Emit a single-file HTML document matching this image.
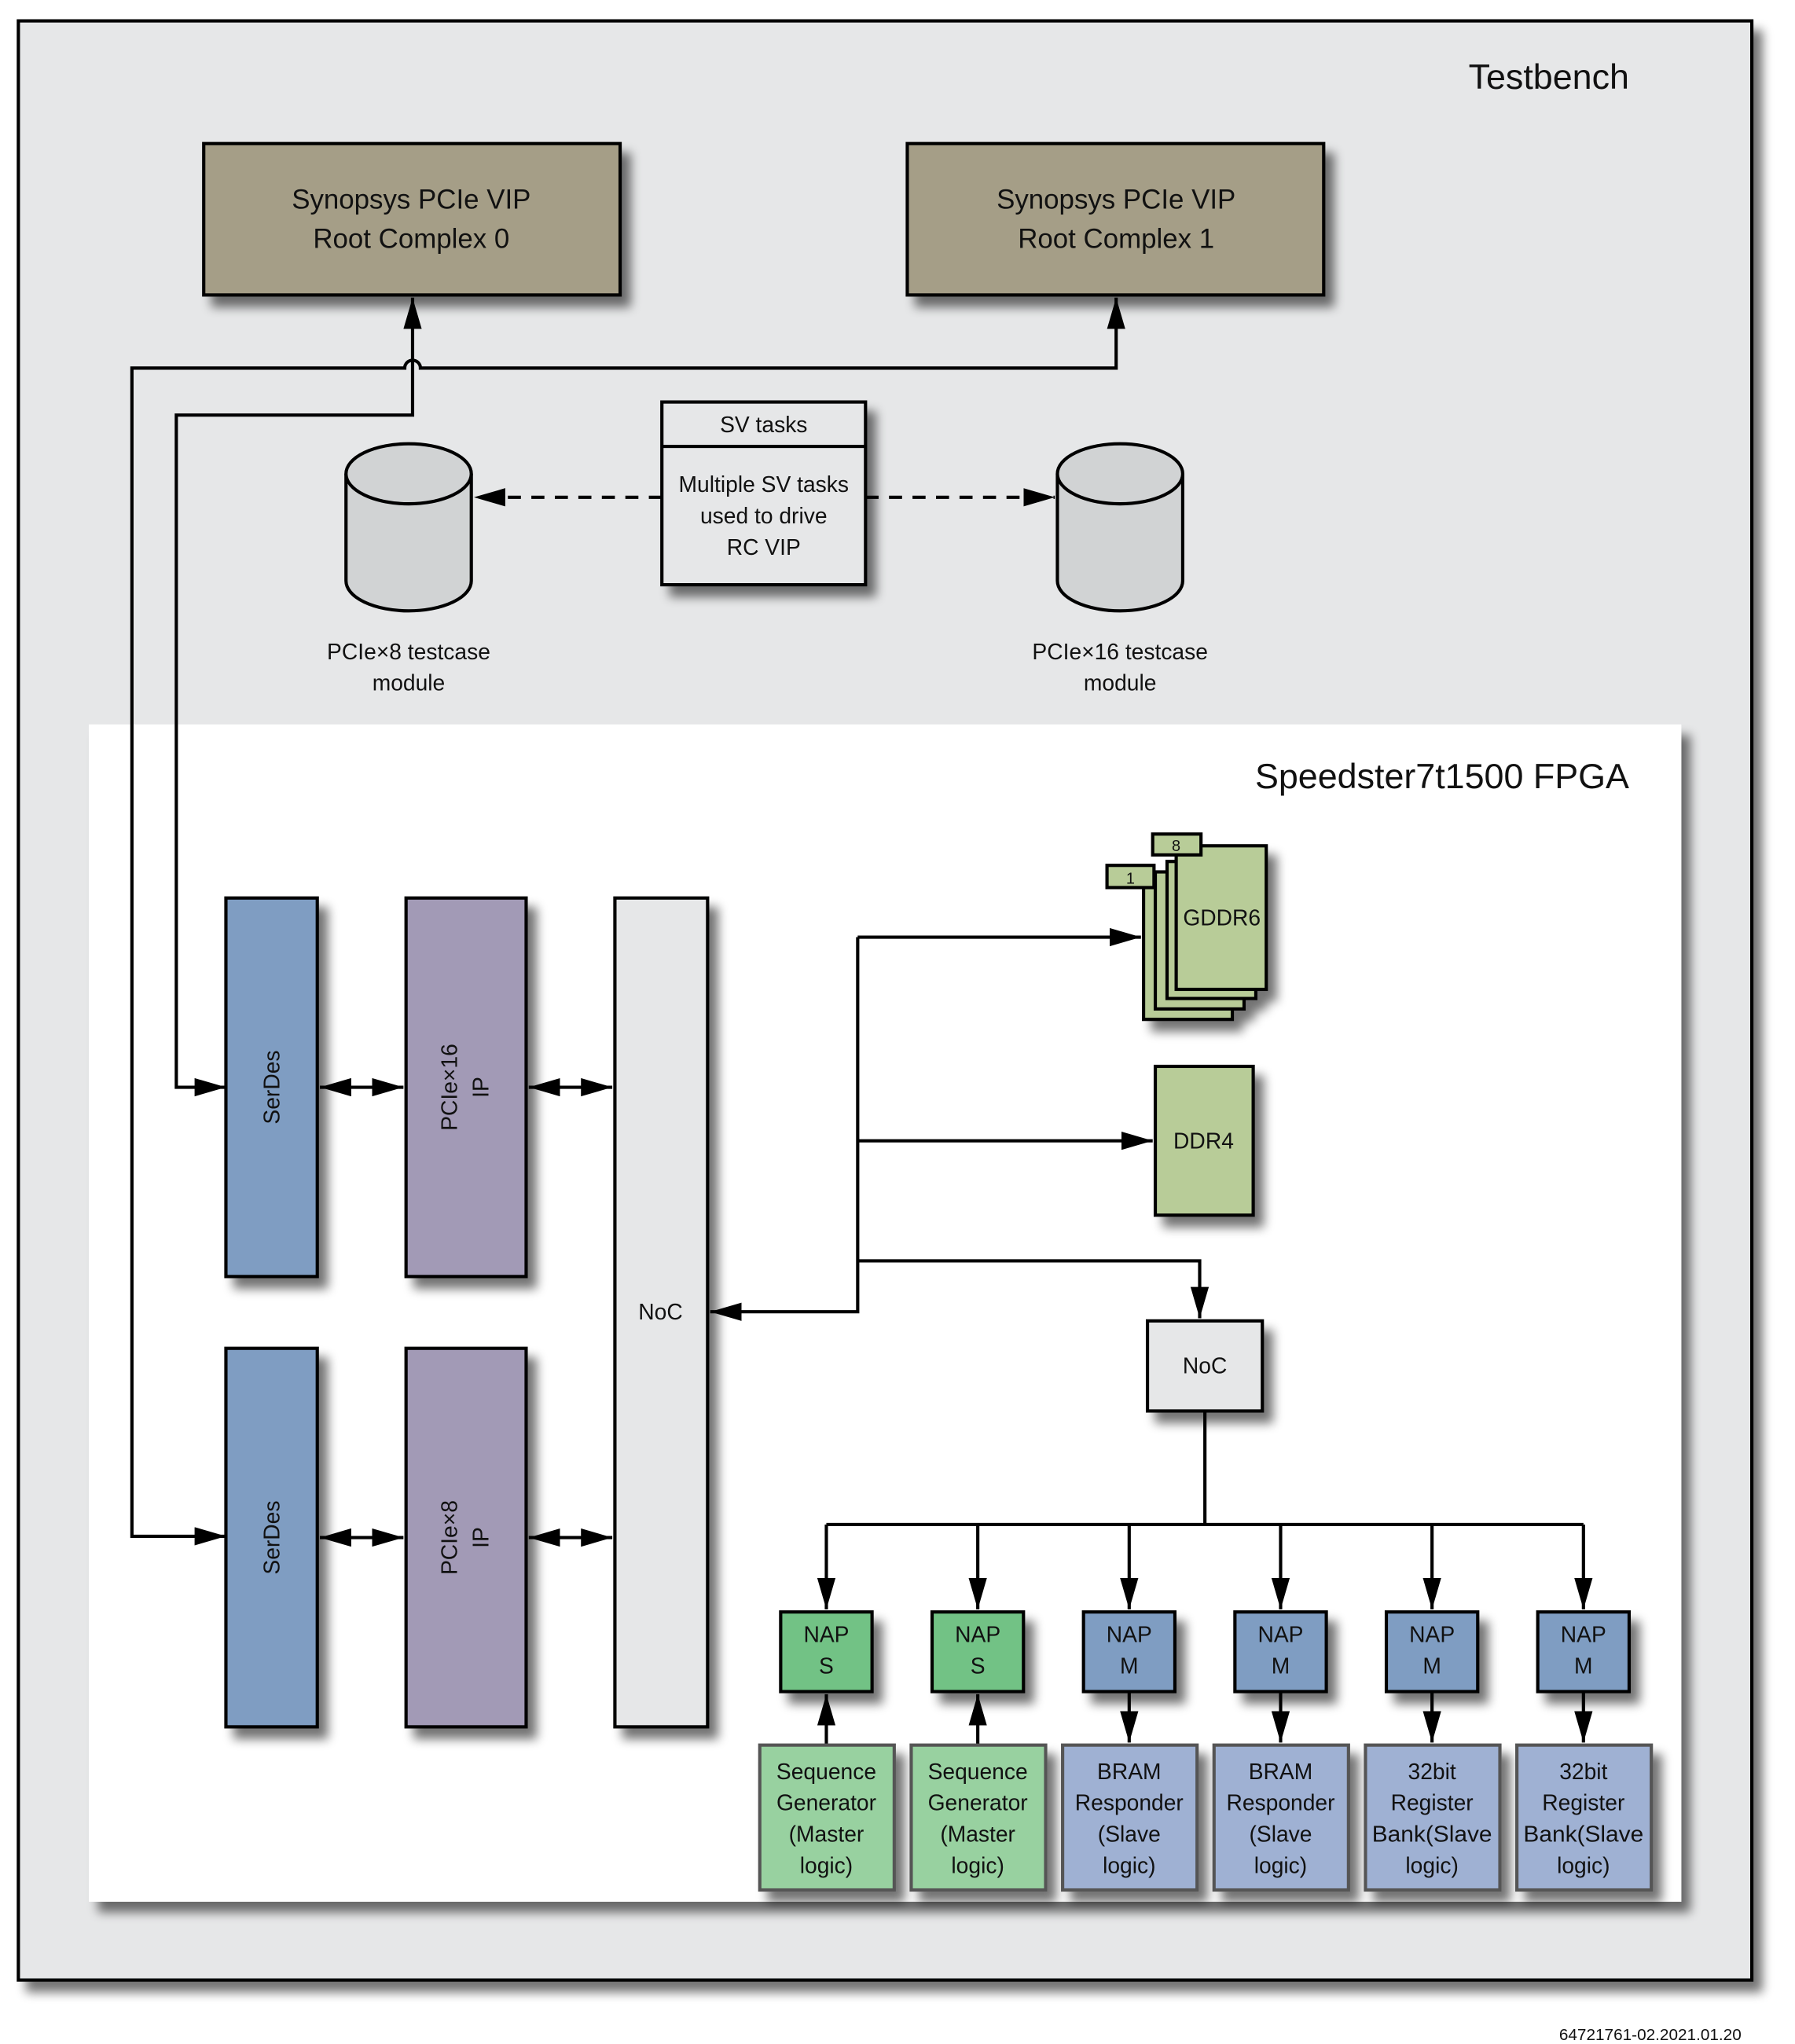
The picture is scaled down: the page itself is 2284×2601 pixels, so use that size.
<!DOCTYPE html>
<html><head><meta charset="utf-8"><style>
html,body{margin:0;padding:0;background:#fff;}
svg{display:block;}
text{font-family:"Liberation Sans",sans-serif;fill:#111;}
</style></head><body>
<svg width="2284" height="2601" viewBox="0 0 1375 1566" xmlns="http://www.w3.org/2000/svg">
<defs>
<filter id="sh" x="-20%" y="-20%" width="150%" height="150%">
<feGaussianBlur in="SourceAlpha" stdDeviation="4"/>
<feOffset dx="7" dy="8" result="b"/>
<feComponentTransfer><feFuncA type="linear" slope="0.55"/></feComponentTransfer>
<feMerge><feMergeNode/><feMergeNode in="SourceGraphic"/></feMerge>
</filter>
<marker id="ar" markerUnits="userSpaceOnUse" markerWidth="26" markerHeight="16" refX="24" refY="7" orient="auto">
<path d="M0,0 L24,7 L0,14 Z" fill="#000"/>
</marker>
<marker id="as" markerUnits="userSpaceOnUse" markerWidth="26" markerHeight="16" refX="24" refY="7" orient="auto-start-reverse">
<path d="M0,0 L24,7 L0,14 Z" fill="#000"/>
</marker>
</defs>

<!-- Testbench -->
<rect x="14" y="16" width="1328" height="1501" fill="#e6e7e8" stroke="#000" stroke-width="2.5" filter="url(#sh)"/>
<text x="1248" y="68" font-size="27" text-anchor="end">Testbench</text>

<!-- Root complexes -->
<rect x="156" y="110" width="319" height="116" fill="#a59e87" stroke="#000" stroke-width="2.5" filter="url(#sh)"/>
<text x="315" y="160" font-size="21" text-anchor="middle">Synopsys PCIe VIP</text>
<text x="315" y="190" font-size="21" text-anchor="middle">Root Complex 0</text>
<rect x="695" y="110" width="319" height="116" fill="#a59e87" stroke="#000" stroke-width="2.5" filter="url(#sh)"/>
<text x="855" y="160" font-size="21" text-anchor="middle">Synopsys PCIe VIP</text>
<text x="855" y="190" font-size="21" text-anchor="middle">Root Complex 1</text>

<g fill="none" stroke="#000" stroke-width="2.5">
<path d="M507,381 L363,381" stroke-dasharray="10,8" marker-end="url(#ar)"/>
<path d="M663,381 L808,381" stroke-dasharray="10,8" marker-end="url(#ar)"/>
</g>

<!-- SV tasks -->
<rect x="507" y="308" width="156" height="140" fill="#e6e7e8" stroke="#000" stroke-width="2.5" filter="url(#sh)"/>
<line x1="507" y1="342" x2="663" y2="342" stroke="#000" stroke-width="2.5"/>
<text x="585" y="331" font-size="17" text-anchor="middle">SV tasks</text>
<text x="585" y="377" font-size="17" text-anchor="middle">Multiple SV tasks</text>
<text x="585" y="401" font-size="17" text-anchor="middle">used to drive</text>
<text x="585" y="425" font-size="17" text-anchor="middle">RC VIP</text>

<!-- cylinders -->
<g stroke="#000" stroke-width="2.5" fill="#d1d3d4">
<path d="M265,363 L265,445 A48,23 0 0 0 361,445 L361,363"/>
<ellipse cx="313" cy="363" rx="48" ry="23"/>
<path d="M810,363 L810,445 A48,23 0 0 0 906,445 L906,363"/>
<ellipse cx="858" cy="363" rx="48" ry="23"/>
</g>
<text x="313" y="505" font-size="17" text-anchor="middle">PCIe×8 testcase</text>
<text x="313" y="529" font-size="17" text-anchor="middle">module</text>
<text x="858" y="505" font-size="17" text-anchor="middle">PCIe×16 testcase</text>
<text x="858" y="529" font-size="17" text-anchor="middle">module</text>

<!-- FPGA -->
<rect x="68" y="555" width="1220" height="902" fill="#fff" filter="url(#sh)"/>
<text x="1248" y="604" font-size="27" text-anchor="end">Speedster7t1500 FPGA</text>

<!-- long connectors (drawn over FPGA) -->
<g fill="none" stroke="#000" stroke-width="2.5">
<path d="M173,1177 L101,1177 L101,282 L310,282 A6,6 0 0 1 322,282 L855,282 L855,228" marker-end="url(#ar)" marker-start="url(#as)"/>
<path d="M173,833 L135,833 L135,318 L316,318 L316,228" marker-end="url(#ar)" marker-start="url(#as)"/>
</g>

<!-- left blocks -->
<g stroke="#000" stroke-width="2.5" filter="url(#sh)">
<rect x="173" y="688" width="70" height="290" fill="#7f9dc2"/>
<rect x="311" y="688" width="92" height="290" fill="#a29ab6"/>
<rect x="173" y="1033" width="70" height="290" fill="#7f9dc2"/>
<rect x="311" y="1033" width="92" height="290" fill="#a29ab6"/>
<rect x="471" y="688" width="71" height="635" fill="#e6e7e8"/>
</g>
<text transform="translate(214,833) rotate(-90)" font-size="17" text-anchor="middle">SerDes</text>
<text transform="translate(214,1178) rotate(-90)" font-size="17" text-anchor="middle">SerDes</text>
<text transform="translate(350,833) rotate(-90)" font-size="17" text-anchor="middle">PCIe×16</text>
<text transform="translate(374,833) rotate(-90)" font-size="17" text-anchor="middle">IP</text>
<text transform="translate(350,1178) rotate(-90)" font-size="17" text-anchor="middle">PCIe×8</text>
<text transform="translate(374,1178) rotate(-90)" font-size="17" text-anchor="middle">IP</text>
<text x="506" y="1011" font-size="17" text-anchor="middle">NoC</text>

<g fill="none" stroke="#000" stroke-width="2.5">
<path d="M245,833 L309,833" marker-start="url(#as)" marker-end="url(#ar)"/>
<path d="M405,833 L469,833" marker-start="url(#as)" marker-end="url(#ar)"/>
<path d="M245,1178 L309,1178" marker-start="url(#as)" marker-end="url(#ar)"/>
<path d="M405,1178 L469,1178" marker-start="url(#as)" marker-end="url(#ar)"/>
<path d="M657,718 L657,1005 L544,1005" marker-end="url(#ar)"/>
<path d="M657,718 L874,718" marker-end="url(#ar)"/>
<path d="M657,874 L883,874" marker-end="url(#ar)"/>
<path d="M657,966 L919,966 L919,1010" marker-end="url(#ar)"/>
<path d="M923,1081 L923,1168"/>
<path d="M633,1168 L1213,1168"/>
<path d="M633,1168 L633,1233" marker-end="url(#ar)"/>
<path d="M749,1168 L749,1233" marker-end="url(#ar)"/>
<path d="M865,1168 L865,1233" marker-end="url(#ar)"/>
<path d="M981,1168 L981,1233" marker-end="url(#ar)"/>
<path d="M1097,1168 L1097,1233" marker-end="url(#ar)"/>
<path d="M1213,1168 L1213,1233" marker-end="url(#ar)"/>
<path d="M633,1337 L633,1298" marker-end="url(#ar)"/>
<path d="M749,1337 L749,1298" marker-end="url(#ar)"/>
<path d="M865,1296 L865,1335" marker-end="url(#ar)"/>
<path d="M981,1296 L981,1335" marker-end="url(#ar)"/>
<path d="M1097,1296 L1097,1335" marker-end="url(#ar)"/>
<path d="M1213,1296 L1213,1335" marker-end="url(#ar)"/>
</g>

<!-- GDDR6 stack -->
<g stroke="#000" stroke-width="2.5" fill="#b8cc98">
<g filter="url(#sh)">
<rect x="876" y="676" width="68" height="105"/>
<rect x="885" y="668" width="68" height="105"/>
<rect x="894" y="660" width="68" height="105"/>
<rect x="901" y="648" width="69" height="110"/>
</g>
<rect x="848" y="663" width="36" height="17"/>
<rect x="883" y="639" width="37" height="16"/>
<rect x="885" y="817" width="75" height="114" filter="url(#sh)"/>
</g>
<text x="866" y="677" font-size="12" text-anchor="middle">1</text>
<text x="901" y="652" font-size="12" text-anchor="middle">8</text>
<text x="936" y="709" font-size="17" text-anchor="middle">GDDR6</text>
<text x="922" y="880" font-size="17" text-anchor="middle">DDR4</text>

<rect x="879" y="1012" width="88" height="69" fill="#e6e7e8" stroke="#000" stroke-width="2.5" filter="url(#sh)"/>
<text x="923" y="1052" font-size="17" text-anchor="middle">NoC</text>

<!-- NAPs -->
<g stroke="#000" stroke-width="2.5" filter="url(#sh)">
<rect x="598" y="1235" width="70" height="61" fill="#72c285"/>
<rect x="714" y="1235" width="70" height="61" fill="#72c285"/>
<rect x="830" y="1235" width="70" height="61" fill="#7f9dc2"/>
<rect x="946" y="1235" width="70" height="61" fill="#7f9dc2"/>
<rect x="1062" y="1235" width="70" height="61" fill="#7f9dc2"/>
<rect x="1178" y="1235" width="70" height="61" fill="#7f9dc2"/>
</g>
<g font-size="17" text-anchor="middle">
<text x="633" y="1258">NAP</text><text x="633" y="1282">S</text>
<text x="749" y="1258">NAP</text><text x="749" y="1282">S</text>
<text x="865" y="1258">NAP</text><text x="865" y="1282">M</text>
<text x="981" y="1258">NAP</text><text x="981" y="1282">M</text>
<text x="1097" y="1258">NAP</text><text x="1097" y="1282">M</text>
<text x="1213" y="1258">NAP</text><text x="1213" y="1282">M</text>
</g>

<g stroke="#555" stroke-width="2.5" filter="url(#sh)">
<rect x="582" y="1337" width="103" height="111" fill="#98d1a0"/>
<rect x="698" y="1337" width="103" height="111" fill="#98d1a0"/>
<rect x="814" y="1337" width="103" height="111" fill="#9fb1d3"/>
<rect x="930" y="1337" width="103" height="111" fill="#9fb1d3"/>
<rect x="1046" y="1337" width="103" height="111" fill="#9fb1d3"/>
<rect x="1162" y="1337" width="103" height="111" fill="#9fb1d3"/>
</g>
<g font-size="17" text-anchor="middle">
<text x="633" y="1363">Sequence</text><text x="633" y="1387">Generator</text><text x="633" y="1411">(Master</text><text x="633" y="1435">logic)</text>
<text x="749" y="1363">Sequence</text><text x="749" y="1387">Generator</text><text x="749" y="1411">(Master</text><text x="749" y="1435">logic)</text>
<text x="865" y="1363">BRAM</text><text x="865" y="1387">Responder</text><text x="865" y="1411">(Slave</text><text x="865" y="1435">logic)</text>
<text x="981" y="1363">BRAM</text><text x="981" y="1387">Responder</text><text x="981" y="1411">(Slave</text><text x="981" y="1435">logic)</text>
<text x="1097" y="1363">32bit</text><text x="1097" y="1387">Register</text><text x="1097" y="1411" textLength="92" lengthAdjust="spacingAndGlyphs">Bank(Slave</text><text x="1097" y="1435">logic)</text>
<text x="1213" y="1363">32bit</text><text x="1213" y="1387">Register</text><text x="1213" y="1411" textLength="92" lengthAdjust="spacingAndGlyphs">Bank(Slave</text><text x="1213" y="1435">logic)</text>
</g>

<text x="1334" y="1563" font-size="12.5" text-anchor="end">64721761-02.2021.01.20</text>
</svg>
</body></html>
